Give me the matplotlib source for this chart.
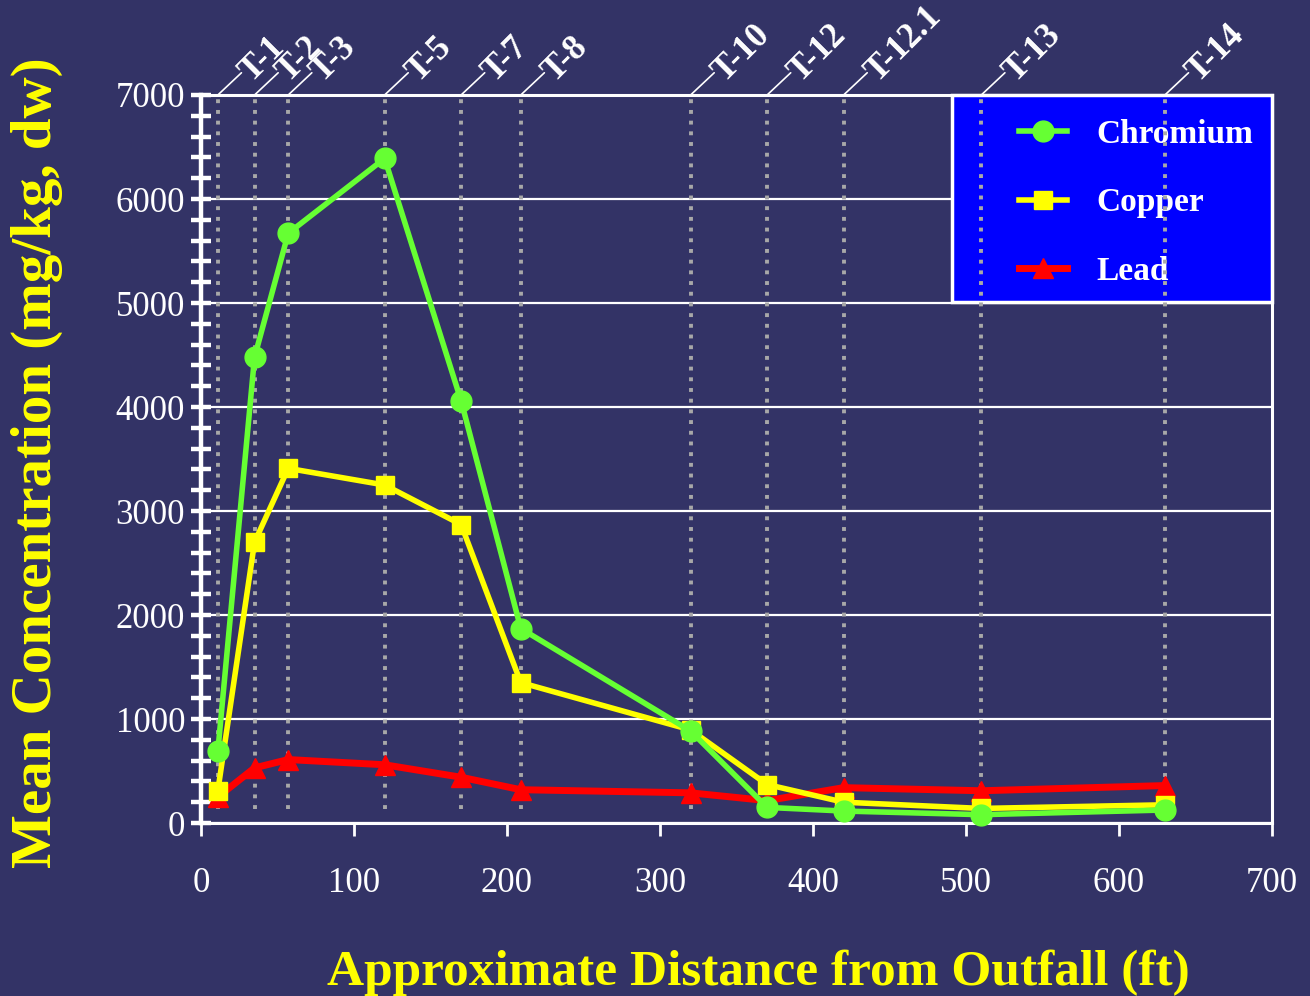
import matplotlib
matplotlib.use('Agg')
import matplotlib.pyplot as plt
from matplotlib.ticker import MultipleLocator
from matplotlib.patches import Rectangle

plt.rcParams['font.family'] = ['Liberation Serif', 'DejaVu Serif']

# ---- data ----
stations = ['T-1', 'T-2', 'T-3', 'T-5', 'T-7', 'T-8', 'T-10', 'T-12', 'T-12.1', 'T-13', 'T-14']
distance_ft = [11, 35, 57, 120, 170, 209, 320, 370, 420, 510, 630]
chromium = [690, 4480, 5670, 6390, 4060, 1870, 885, 150, 115, 80, 125]
copper = [310, 2700, 3410, 3250, 2870, 1350, 895, 370, 200, 140, 175]
lead = [250, 530, 610, 560, 440, 320, 290, 215, 340, 310, 360]
series_names = ['Chromium', 'Copper', 'Lead']
x_ticks = [0, 100, 200, 300, 400, 500, 600, 700]
y_ticks = [0, 1000, 2000, 3000, 4000, 5000, 6000, 7000]

BG = '#333366'
W, H = 1310, 996
fig = plt.figure(figsize=(W / 100, H / 100), dpi=100, facecolor=BG)
L, R, T, B = 201, 1272, 95, 823
ax = fig.add_axes([L / W, 1 - B / H, (R - L) / W, (B - T) / H], facecolor=BG)

ax.set_xlim(0, 700)
ax.set_ylim(0, 7000)
ax.set_xticks(x_ticks)
ax.set_yticks(y_ticks)
ax.yaxis.set_minor_locator(MultipleLocator(200))
ax.tick_params(axis='y', which='both', direction='inout', length=15, width=3.2,
               color='white', labelcolor='white', labelsize=25, pad=4)
ax.tick_params(axis='x', which='major', direction='out', length=9, width=2,
               color='white', labelcolor='white', labelsize=25, pad=23)
ax.set_axisbelow(True)
ax.grid(axis='y', color='white', lw=1.6)
for name, sp in ax.spines.items():
    sp.set_color('white')
    sp.set_linewidth(3.2 if name == 'left' else 2.2)

# legend box (beneath dotted station lines)
ax.add_patch(Rectangle((0.701, 0.716), 0.299, 0.284, transform=ax.transAxes,
                       facecolor='#0000FF', edgecolor='white', lw=2.5,
                       zorder=4, clip_on=False))

# station dotted lines
ax.vlines(distance_ft, 130, 7000, colors='#A8A8A8', linestyles=[(0, (1, 1.75))],
          lw=2.8, zorder=6)

# station labels with leader lines
for name, x in zip(stations, distance_ft):
    ax.annotate('', xy=(x, 7000), xycoords='data', xytext=(17, 16),
                textcoords='offset points', annotation_clip=False,
                arrowprops=dict(arrowstyle='-', color='white', lw=1.2,
                                shrinkA=0, shrinkB=0))
    ax.annotate(name, xy=(x, 7000), xycoords='data', xytext=(20, 13),
                textcoords='offset points', annotation_clip=False,
                rotation=45, rotation_mode='anchor', ha='left', va='center',
                color='white', fontsize=25, fontweight='bold')

# data lines
l_lead, = ax.plot(distance_ft, lead, color='#FF0000', lw=5, marker='^', ms=15,
                  mfc='#FF0000', mec='#FF0000', zorder=7, clip_on=False)
l_cu, = ax.plot(distance_ft, copper, color='#FFFF00', lw=4, marker='s', ms=13.5,
                mfc='#FFFF00', mec='#FFFF00', zorder=8, clip_on=False)
l_cr, = ax.plot(distance_ft, chromium, color='#66FF33', lw=4, marker='o', ms=15,
                mfc='#66FF33', mec='#66FF33', zorder=9, clip_on=False)

leg = ax.legend([l_cr, l_cu, l_lead], series_names, loc='upper left',
                bbox_to_anchor=((1002 - L) / (R - L), 0.99), frameon=False,
                borderpad=0, handlelength=1.44, handletextpad=0.9,
                labelspacing=1.12, numpoints=1,
                prop=dict(family='Liberation Serif', weight='bold', size=24),
                labelcolor='white')
leg.set_zorder(5)

# axis titles
fig.text(37 / W, 1 - 463 / H, 'Mean Concentration (mg/kg, dw)', rotation=90,
         ha='center', va='center', color='#FFFF00', fontsize=41, fontweight='bold')
fig.text(758 / W, 1 - 985 / H, 'Approximate Distance from Outfall (ft)',
         ha='center', va='baseline', color='#FFFF00', fontsize=37, fontweight='bold')

fig.savefig('out.png', dpi=100, facecolor=BG)
